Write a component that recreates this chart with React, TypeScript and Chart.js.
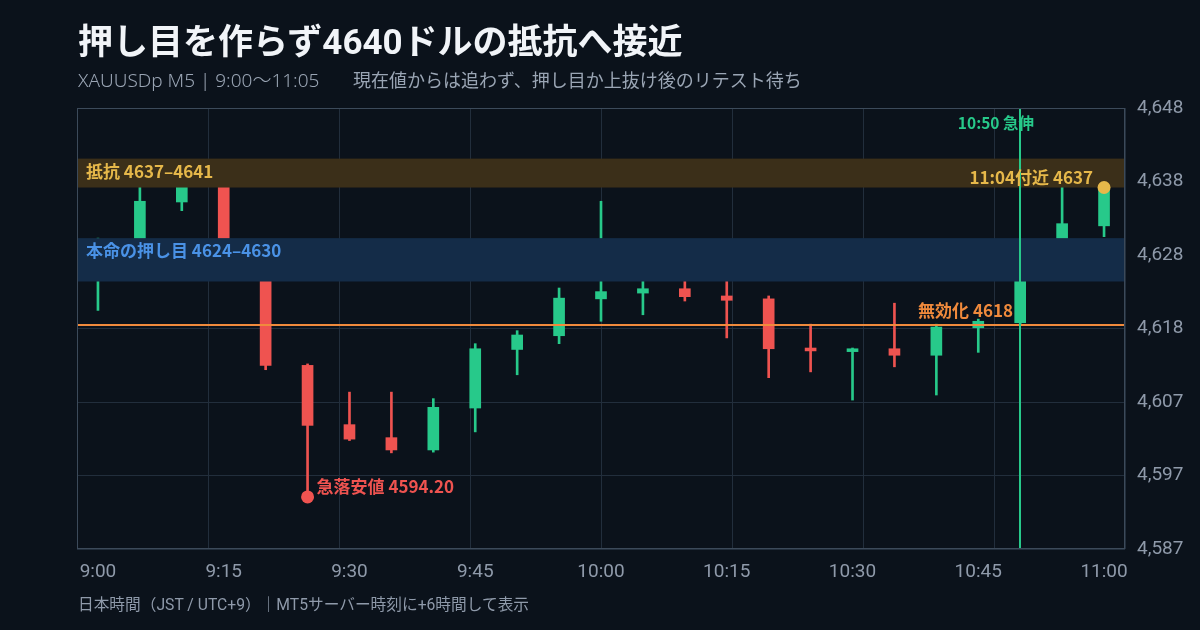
import React, { useEffect, useRef } from "react";
import { Chart, registerables } from "chart.js";

Chart.register(...registerables);

// ---- data ----
const times = [
  "9:00", "9:05", "9:10", "9:15", "9:20", "9:25", "9:30", "9:35", "9:40", "9:45",
  "9:50", "9:55", "10:00", "10:05", "10:10", "10:15", "10:20", "10:25", "10:30", "10:35",
  "10:40", "10:45", "10:50", "10:55", "11:00",
];
const opens = [
  4625, 4627, 4635, 4639, 4627, 4612.4, 4604.2, 4602.4, 4600.7, 4606.5,
  4614.6, 4616.5, 4621.6, 4622.4, 4623.0, 4622.0, 4621.6, 4614.8, 4614.3, 4614.7,
  4613.8, 4617.6, 4618.3, 4626, 4631.7,
];
const highs = [
  4630, 4638, 4640, 4640, 4628, 4612.6, 4608.7, 4608.7, 4607.8, 4615.4,
  4617.2, 4623.1, 4635.1, 4625, 4624.5, 4625, 4622.0, 4618.1, 4614.8, 4621.0,
  4618.1, 4618.8, 4625, 4638, 4637.2,
];
const lows = [
  4620, 4626, 4633.8, 4626, 4611.8, 4594.2, 4602.0, 4600.3, 4600.4, 4603.2,
  4611.1, 4615.4, 4618.5, 4619.4, 4621.3, 4616.2, 4610.7, 4611.5, 4607.6, 4612.2,
  4608.3, 4614.2, 4618.0, 4625.5, 4630.2,
];
const closes = [
  4629, 4635.1, 4638.5, 4627.5, 4612.4, 4604.1, 4602.2, 4600.7, 4606.6, 4614.7,
  4616.6, 4621.7, 4622.6, 4623.0, 4621.9, 4621.4, 4614.7, 4614.4, 4614.7, 4613.8,
  4617.7, 4618.5, 4624.6, 4632, 4636.9,
];
const xTickLabels = ["9:00", "9:15", "9:30", "9:45", "10:00", "10:15", "10:30", "10:45", "11:00"];
const yRange = [4587, 4648];
const yTickCount = 7;
const resistanceZone = [4637, 4641];
const pullbackZone = [4624, 4630];
const invalidLevel = 4618;
const spikeTime = "10:50";
const lowMark = { time: "9:25", value: 4594.2 };
const nowMark = { time: "11:00", value: 4637 };

const TITLE = "押し目を作らず4640ドルの抵抗へ接近";
const SUBTITLE_HEAD = "XAUUSDp M5 | 9:00〜11:05";
const SUBTITLE_TAIL = "現在値からは追わず、押し目か上抜け後のリテスト待ち";
const FOOTER = "日本時間（JST / UTC+9）｜MT5サーバー時刻に+6時間して表示";

// ---- styles ----
const BG = "#0b121b";
const GREEN = "#27c98a";
const RED = "#ef5350";
const GOLD = "#e6b84a";
const BLUE = "#4a92e6";
const ORANGE = "#f08a3c";
const GRID = "#222e3c";
const AXIS_TEXT = "#8f9aaa";
const FONT_STACK = "Roboto, 'Noto Sans CJK JP', 'Noto Sans', sans-serif";
const LABEL_FONT = "bold 17px 'Noto Sans CJK JP', 'Noto Sans', sans-serif";

const candleColors = opens.map((o, i) => (closes[i] >= o ? GREEN : RED));

const overlayPlugin = {
  id: "overlay",
  afterDatasetsDraw(chart: any) {
    const { ctx, chartArea: a, scales } = chart;
    const xs = scales.x;
    const ys = scales.y;
    const w = a.right - a.left;
    ctx.save();
    ctx.beginPath();
    ctx.rect(a.left, a.top, w, a.bottom - a.top);
    ctx.clip();

    // zones
    const rTop = ys.getPixelForValue(resistanceZone[1]);
    const rBot = ys.getPixelForValue(resistanceZone[0]);
    ctx.fillStyle = "#3b2f19";
    ctx.fillRect(a.left, rTop, w, rBot - rTop);
    const pTop = ys.getPixelForValue(pullbackZone[1]);
    const pBot = ys.getPixelForValue(pullbackZone[0]);
    ctx.fillStyle = "#142c48";
    ctx.fillRect(a.left, pTop, w, pBot - pTop);

    // invalidation line
    const iy = ys.getPixelForValue(invalidLevel);
    ctx.strokeStyle = ORANGE;
    ctx.lineWidth = 2;
    ctx.beginPath();
    ctx.moveTo(a.left, iy);
    ctx.lineTo(a.right, iy);
    ctx.stroke();

    // spike line
    const sx = Math.round(xs.getPixelForValue(times.indexOf(spikeTime)));
    ctx.strokeStyle = GREEN;
    ctx.lineWidth = 2;
    ctx.beginPath();
    ctx.moveTo(sx, a.top);
    ctx.lineTo(sx, a.bottom);
    ctx.stroke();

    // markers
    const lx = xs.getPixelForValue(times.indexOf(lowMark.time));
    const ly = ys.getPixelForValue(lowMark.value);
    ctx.fillStyle = RED;
    ctx.beginPath();
    ctx.arc(lx, ly, 6.5, 0, Math.PI * 2);
    ctx.fill();
    const nx = xs.getPixelForValue(times.indexOf(nowMark.time));
    const ny = ys.getPixelForValue(nowMark.value);
    ctx.fillStyle = GOLD;
    ctx.beginPath();
    ctx.arc(nx, ny, 6.5, 0, Math.PI * 2);
    ctx.fill();

    // labels
    ctx.textBaseline = "middle";
    ctx.font = LABEL_FONT;
    ctx.textAlign = "left";
    ctx.fillStyle = GOLD;
    ctx.fillText(`抵抗 ${resistanceZone[0]}–${resistanceZone[1]}`, a.left + 9, (rTop + rBot) / 2 - 2);
    ctx.fillStyle = BLUE;
    ctx.fillText(`本命の押し目 ${pullbackZone[0]}–${pullbackZone[1]}`, a.left + 9, pTop + 12);
    ctx.fillStyle = RED;
    ctx.fillText(`急落安値 ${lowMark.value.toFixed(2)}`, lx + 9, ly - 10);
    ctx.textAlign = "right";
    ctx.fillStyle = ORANGE;
    ctx.fillText(`無効化 ${invalidLevel}`, sx - 7, iy - 14);
    ctx.fillStyle = GOLD;
    ctx.fillText(`11:04付近 ${nowMark.value}`, nx - 11, ny - 10);
    ctx.font = "bold 15.5px 'Noto Sans CJK JP', 'Noto Sans', sans-serif";
    ctx.fillStyle = GREEN;
    ctx.fillText(`${spikeTime} 急伸`, sx + 14, a.top + 15);
    ctx.restore();
  },
  afterDraw(chart: any) {
    const { ctx, chartArea: a } = chart;
    ctx.save();
    ctx.strokeStyle = "#3c4a5a";
    ctx.lineWidth = 1;
    ctx.strokeRect(a.left + 0.5, a.top + 0.5, a.right - a.left - 1, a.bottom - a.top - 1);
    ctx.restore();
  },
};

export default function App() {
  const canvasRef = useRef<HTMLCanvasElement | null>(null);

  useEffect(() => {
    document.body.style.margin = "0";
    document.body.style.background = BG;
    const canvas = canvasRef.current;
    if (!canvas) return;
    const chart = new Chart(canvas, {
      type: "bar",
      data: {
        labels: times,
        datasets: [
          {
            label: "body",
            data: opens.map((o, i) => [o, closes[i]]) as any,
            backgroundColor: candleColors,
            borderWidth: 0,
            barThickness: 11,
            grouped: false,
          } as any,
          {
            label: "wick",
            data: lows.map((l, i) => [l, highs[i]]) as any,
            backgroundColor: candleColors,
            borderWidth: 0,
            barThickness: 2,
            grouped: false,
          } as any,
        ],
      },
      options: {
        responsive: false,
        animation: false,
        devicePixelRatio: 1,
        layout: { padding: { left: 77, right: 0, top: 108, bottom: 41 } },
        plugins: {
          legend: { display: false },
          tooltip: { enabled: false },
          title: { display: false },
        },
        scales: {
          x: {
            type: "category",
            offset: true,
            grid: { display: false, drawTicks: false },
            border: { display: false },
            ticks: {
              autoSkip: false,
              maxRotation: 0,
              padding: 12,
              color: AXIS_TEXT,
              font: { family: "Roboto, 'Noto Sans', sans-serif", size: 19 },
              callback: (_v: any, i: number) => (xTickLabels.includes(times[i]) ? times[i] : ""),
            },
            afterFit: (s: any) => {
              s.height = 40;
            },
          },
          xg: {
            type: "linear",
            position: "top",
            offset: false,
            min: 0,
            max: xTickLabels.length - 1,
            ticks: { display: false, stepSize: 1 },
            grid: { color: GRID, lineWidth: 1, drawTicks: false, offset: false },
            border: { display: false },
            afterFit: (s: any) => {
              s.height = 0;
            },
          },
          y: {
            type: "linear",
            position: "right",
            min: yRange[0],
            max: yRange[1],
            ticks: {
              count: yTickCount,
              padding: 12,
              color: AXIS_TEXT,
              font: { family: "Roboto, 'Noto Sans', sans-serif", size: 19 },
              callback: (v: any) => Math.round(Number(v)).toLocaleString("en-US"),
            },
            grid: { color: GRID, lineWidth: 1, drawTicks: false },
            border: { display: false },
            afterFit: (s: any) => {
              s.width = 75;
            },
          },
        },
      } as any,
      plugins: [overlayPlugin],
    });
    return () => chart.destroy();
  }, []);

  return (
    <div
      style={{
        position: "relative",
        width: 1200,
        height: 630,
        background: BG,
        overflow: "hidden",
        fontFamily: FONT_STACK,
      }}
    >
      <canvas
        ref={canvasRef}
        width={1200}
        height={630}
        style={{ position: "absolute", left: 0, top: 0, width: 1200, height: 630 }}
      />
      <div
        style={{
          position: "absolute",
          left: 78,
          top: 25,
          fontSize: 35,
          fontWeight: 700,
          lineHeight: 1,
          color: "#f1f4f8",
          whiteSpace: "nowrap",
        }}
      >
        {TITLE}
      </div>
      <div
        style={{
          position: "absolute",
          left: 78,
          top: 70,
          fontSize: 18,
          lineHeight: 1,
          color: "#9aa5b4",
          whiteSpace: "nowrap",
        }}
      >
        <span
          style={{
            display: "inline-block",
            width: 275,
            fontFamily: "'Noto Sans', 'Noto Sans CJK JP', sans-serif",
            fontSize: 19,
            fontWeight: 300,
          }}
        >
          {SUBTITLE_HEAD}
        </span>
        <span style={{ fontFamily: "'Noto Sans CJK JP', sans-serif" }}>{SUBTITLE_TAIL}</span>
      </div>
      <div
        style={{
          position: "absolute",
          left: 78,
          top: 597,
          fontSize: 15.7,
          lineHeight: 1,
          color: "#8f9aaa",
          whiteSpace: "nowrap",
        }}
      >
        {FOOTER}
      </div>
    </div>
  );
}
